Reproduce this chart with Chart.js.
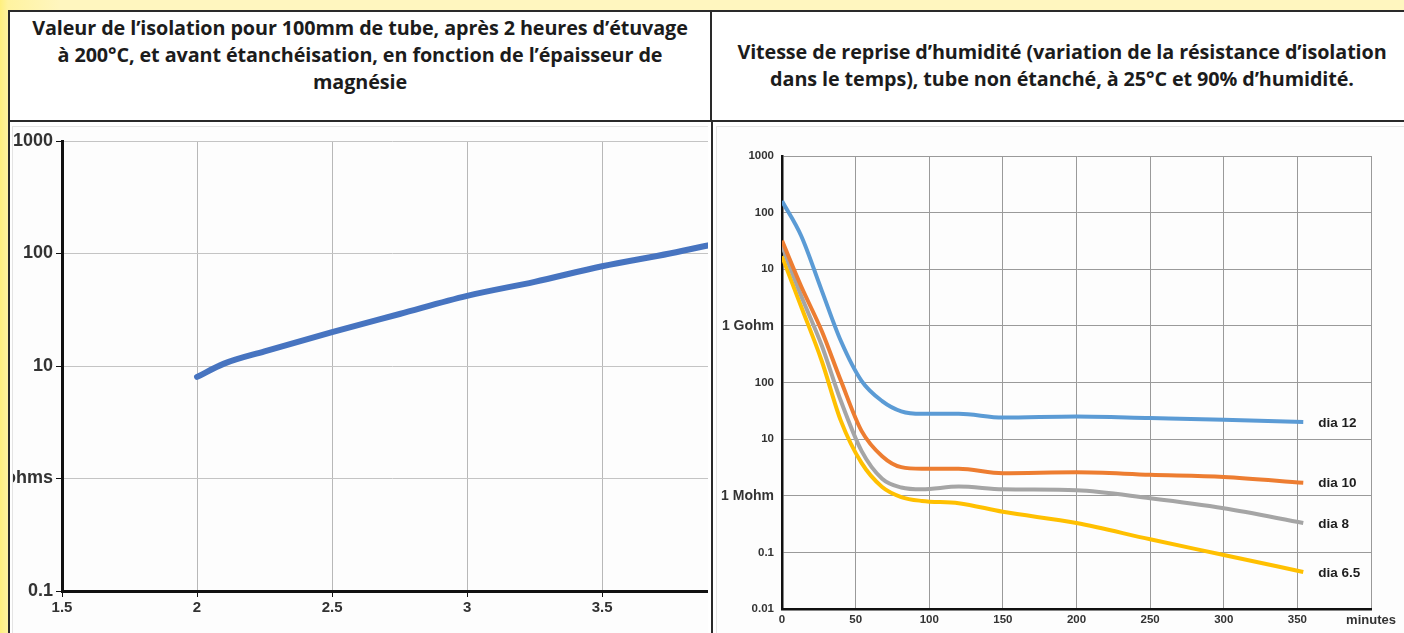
<!DOCTYPE html>
<html lang="fr">
<head>
<meta charset="utf-8">
<script src="https://cdn.jsdelivr.net/npm/chart.js@4/dist/chart.umd.min.js"></script>
<style>
  html, body { margin: 0; padding: 0; }
  body {
    width: 1404px; height: 633px; overflow: hidden; position: relative;
    background: linear-gradient(90deg, #fff07e 0px, #fff3a0 8px, #fff6bf 60px);
    font-family: "Open Sans", Lato, sans-serif;
  }
  .table {
    position: absolute; left: 8px; top: 10px; width: 1404px; height: 640px;
    border: 2px solid #2a2a2a; box-sizing: border-box; background: #fff;
  }
  .head {
    position: absolute; top: 0; height: 110px; box-sizing: border-box;
    border-bottom: 2px solid #2a2a2a; color: #1c1c1c;
    font-weight: 700; font-size: 19.8px; line-height: 27px; text-align: center;
    letter-spacing: -0.1px; white-space: nowrap;
  }
  #headL { left: 0; width: 702px; border-right: 2px solid #2a2a2a; padding-top: 2px; }
  #headR { left: 702px; width: 700px; display: flex; align-items: center; justify-content: center; padding-bottom: 2px; }
  .panel {
    position: absolute; top: 114px; bottom: 0; overflow: hidden; background: #fdfdfd;
    border-left: 1px solid #e4e4e4; border-top: 1px solid #e4e4e4;
  }
  #panelL { left: 2px; width: 695px; }
  #panelR { left: 706px; width: 690px; }
  #panelL .box { position: absolute; left: -20px; top: 0; width: 728px; height: 507px; }
  #panelR .box { position: absolute; left: 0; top: 0; width: 688px; height: 507px; }
  #divider { position: absolute; left: 701px; top: 110px; bottom: 0; width: 2px; background: #2a2a2a; }
</style>
</head>
<body>
<div class="table">
  <div class="head" id="headL">Valeur de l’isolation pour 100mm de tube, après 2 heures d’étuvage<br>à 200°C, et avant étanchéisation, en fonction de l’épaisseur de<br>magnésie</div>
  <div class="head" id="headR"><div>Vitesse de reprise d’humidité (variation de la résistance d’isolation<br>dans le temps), tube non étanché, à 25°C et 90% d’humidité.</div></div>
  <div class="panel" id="panelL"><div class="box"><canvas id="chartL"></canvas></div></div>
  <div class="panel" id="panelR"><div class="box"><canvas id="chartR"></canvas></div></div>
  <div id="divider"></div>
</div>
<script>
// Graphique de gauche : isolation en fonction de l'épaisseur de magnésie
const epaisseurs = [2, 2.1, 2.25, 2.5, 2.75, 3, 3.25, 3.5, 3.75, 3.94];
const isolation = [8, 10.5, 13.5, 20, 29, 42, 56, 77, 100, 125];
const ticksGaucheValeurs = [0.1, 1, 10, 100, 1000];
const ticksGaucheLabels = ['0.1', '1 Gohms', '10', '100', '1000'];

// Graphique de droite : reprise d'humidité (valeurs en Mohm)
const minutes = [0, 13, 27, 40, 54, 68, 81, 95, 120, 150, 200, 250, 300, 354];
const dia12 = [160000, 39000, 4200, 540, 107, 47, 31, 28, 28, 24, 25, 23.5, 22, 20];
const dia10 = [32000, 5000, 810, 107, 14, 5, 3.2, 3.0, 3.0, 2.5, 2.6, 2.35, 2.15, 1.7];
const dia8 = [26000, 3400, 450, 47, 6.2, 2.0, 1.4, 1.3, 1.45, 1.3, 1.25, 0.9, 0.6, 0.33];
const dia65 = [17000, 2200, 240, 21, 3.8, 1.43, 0.95, 0.81, 0.74, 0.52, 0.33, 0.17, 0.09, 0.045];
const ticksDroiteValeurs = [0.01, 0.1, 1, 10, 100, 1000, 10000, 100000, 1000000];
const ticksDroiteLabels = ['0.01', '0.1', '1 Mohm', '10', '100', '1 Gohm', '10', '100', '1000'];

const police = "'Liberation Sans', Arial, sans-serif";

function toPoints(xs, ys) {
  return xs.map((x, i) => ({ x: x, y: ys[i] }));
}

// Graphique de gauche
new Chart(document.getElementById('chartL'), {
  type: 'line',
  data: {
    datasets: [{
      data: toPoints(epaisseurs, isolation),
      borderColor: '#4774c0',
      borderWidth: 6,
      pointRadius: 0,
      cubicInterpolationMode: 'monotone',
      borderCapStyle: 'round'
    }]
  },
  options: {
    responsive: true,
    maintainAspectRatio: false,
    animation: false,
    layout: { padding: { top: 14, right: 0, left: 0, bottom: 0 } },
    plugins: { legend: { display: false }, tooltip: { enabled: false } },
    scales: {
      x: {
        type: 'linear', min: 1.5, max: 3.94,
        ticks: { stepSize: 0.5, includeBounds: false, color: '#333', padding: 2,
                 font: { family: police, size: 15, weight: 'bold' },
                 callback: v => String(v) },
        grid: { color: '#b8b8b8', tickColor: '#111', tickLength: 6 },
        border: { color: '#111', width: 3 },
        afterFit: s => { s.height = 43; }
      },
      y: {
        type: 'logarithmic', min: 0.1, max: 1000,
        afterBuildTicks: s => { s.ticks = ticksGaucheValeurs.map(v => ({ value: v })); },
        ticks: { color: '#333', padding: 3,
                 font: { family: police, size: 18, weight: 'bold' },
                 callback: (v) => ticksGaucheLabels[ticksGaucheValeurs.indexOf(v)] },
        grid: { color: '#c4c4c4', tickColor: '#111', tickLength: 6 },
        border: { color: '#111', width: 3 },
        afterFit: s => { s.width = 69; }
      }
    }
  }
});

// Étiquettes "dia ..." au bout des courbes
const etiquettesFin = {
  id: 'etiquettesFin',
  afterDatasetsDraw(chart) {
    const ctx = chart.ctx;
    ctx.save();
    ctx.font = 'bold 13.5px ' + police;
    ctx.fillStyle = '#1e1e1e';
    ctx.textBaseline = 'middle';
    chart.data.datasets.forEach((ds, i) => {
      const pts = chart.getDatasetMeta(i).data;
      const last = pts[pts.length - 1];
      ctx.fillText(ds.label, last.x + 15, last.y + 1);
    });
    ctx.restore();
  }
};

const series = [
  { label: 'dia 12', data: dia12, color: '#5b9bd5' },
  { label: 'dia 10', data: dia10, color: '#ed7d31' },
  { label: 'dia 8', data: dia8, color: '#a5a5a5' },
  { label: 'dia 6.5', data: dia65, color: '#ffc000' }
];

new Chart(document.getElementById('chartR'), {
  type: 'line',
  data: {
    datasets: series.map(s => ({
      label: s.label,
      data: toPoints(minutes, s.data),
      borderColor: s.color,
      borderWidth: 4,
      pointRadius: 0,
      cubicInterpolationMode: 'monotone'
    }))
  },
  plugins: [etiquettesFin],
  options: {
    responsive: true,
    maintainAspectRatio: false,
    animation: false,
    layout: { padding: { top: 29, right: 34, left: 0, bottom: 0 } },
    plugins: { legend: { display: false }, tooltip: { enabled: false } },
    scales: {
      x: {
        type: 'linear', min: 0, max: 400,
        ticks: { stepSize: 50, color: '#333', padding: 4,
                 font: c => ({ family: police, weight: 'bold',
                               size: c.tick && c.tick.value === 400 ? 13 : 11.5 }),
                 callback: v => v === 400 ? 'minutes' : v },
        grid: { color: '#9a9a9a', drawTicks: false },
        border: { color: '#111', width: 2.5 },
        afterFit: s => { s.height = 25; }
      },
      y: {
        type: 'logarithmic', min: 0.01, max: 1000000,
        afterBuildTicks: s => { s.ticks = ticksDroiteValeurs.map(v => ({ value: v })); },
        ticks: { color: '#333', padding: 8,
                 font: c => ({ family: police, weight: 'bold',
                               size: c.tick && (c.tick.value === 1 || c.tick.value === 1000) ? 14 : 11.5 }),
                 callback: (v) => ticksDroiteLabels[ticksDroiteValeurs.indexOf(v)] },
        grid: { color: '#9a9a9a', drawTicks: false },
        border: { color: '#111', width: 2.5 },
        afterFit: s => { s.width = 65; }
      }
    }
  }
});
</script>
</body>
</html>
